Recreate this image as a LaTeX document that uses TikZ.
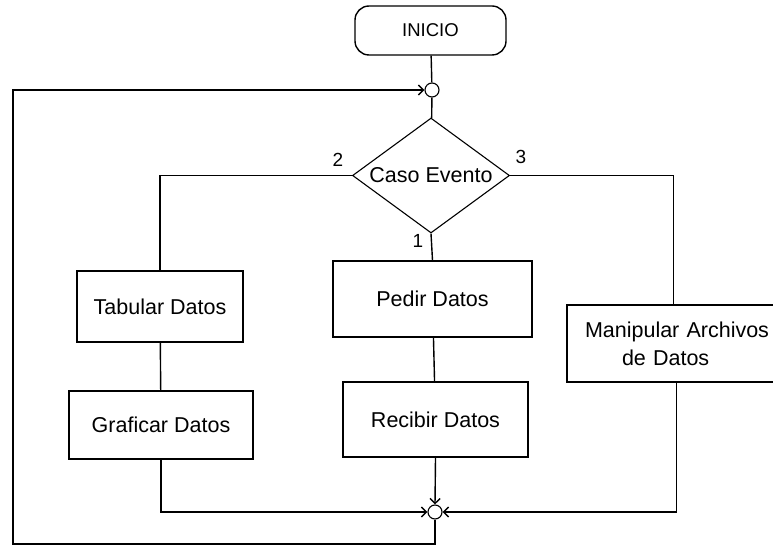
\documentclass[tikz,border=0pt]{standalone}
\usepackage{fontspec}
\setmainfont{Liberation Sans}
\usetikzlibrary{shapes.geometric,arrows.meta}

\begin{document}
\begin{tikzpicture}[x=1pt,y=-1pt,line width=1.4pt,
    font=\fontsize{21.5}{28}\selectfont,
    caja/.style={draw,rectangle,inner sep=0pt},
    inicial/.style={draw,rectangle,rounded corners=14pt,inner sep=0pt},
    cruce/.style={draw,circle,inner sep=0pt,minimum size=14pt,line width=1.1pt},
    decision/.style={draw,diamond,aspect=1.365,inner sep=-6pt,line width=1.1pt},
    numero/.style={font=\fontsize{19}{22}\selectfont},
    flecha/.style={-{Straight Barb[length=5pt,width=10pt]}}]
  \useasboundingbox (0,0) rectangle (773,545);

  \node[inicial,minimum width=151pt,minimum height=49pt,
        font=\fontsize{18.5}{22}\selectfont] (inicio) at (430.5,30.5) {INICIO};
  \node[cruce] (c1) at (432,90) {};
  \node[decision,minimum width=157pt,minimum height=115pt] (caso) at (431,175.5) {Caso Evento};

  \node[caja,minimum width=166pt,minimum height=71pt] (tabular) at (160,306.5) {Tabular Datos};
  \node[caja,minimum width=184pt,minimum height=68pt] (graficar) at (161,425) {Graficar Datos};

  \node[caja,minimum width=199pt,minimum height=76pt] (pedir) at (432.5,299) {Pedir Datos};
  \node[caja,minimum width=185pt,minimum height=75pt] (recibir) at (435.5,419.5) {Recibir Datos};

  \node[caja,minimum width=213pt,minimum height=77pt,text width=195pt,
        inner xsep=18pt,align=left] (manipular) at (682.5,343.5)
        {Manipular Archivos\\\hspace*{37pt}de Datos};

  \node[cruce] (c2) at (435,512) {};
  \coordinate (esquina) at (13,544);

  % numeros de las salidas
  \node[numero] (n2) at (338,160) {2};
  \node[numero] (n3) at (521,157) {3};
  \node[numero] (n1) at (418,241) {1};

  \draw (inicio) -- (c1);
  \draw (c1) -- (caso);
  \draw (caso.west) -| (tabular.north);
  \draw (tabular) -- (graficar);
  \draw (caso.south) -- (pedir.north);
  \draw (pedir) -- (recibir);
  \draw (caso.east) -| ([xshift=-9pt]manipular.north);

  \draw[flecha] (graficar.south) |- (c2.west);
  \draw[flecha] (recibir.south) -- (c2.north);
  \draw[flecha] ([xshift=-6pt]manipular.south) |- (c2.east);

  \draw[flecha] (c2.south) |- (esquina) |- (c1.west);

\end{tikzpicture}
\end{document}
